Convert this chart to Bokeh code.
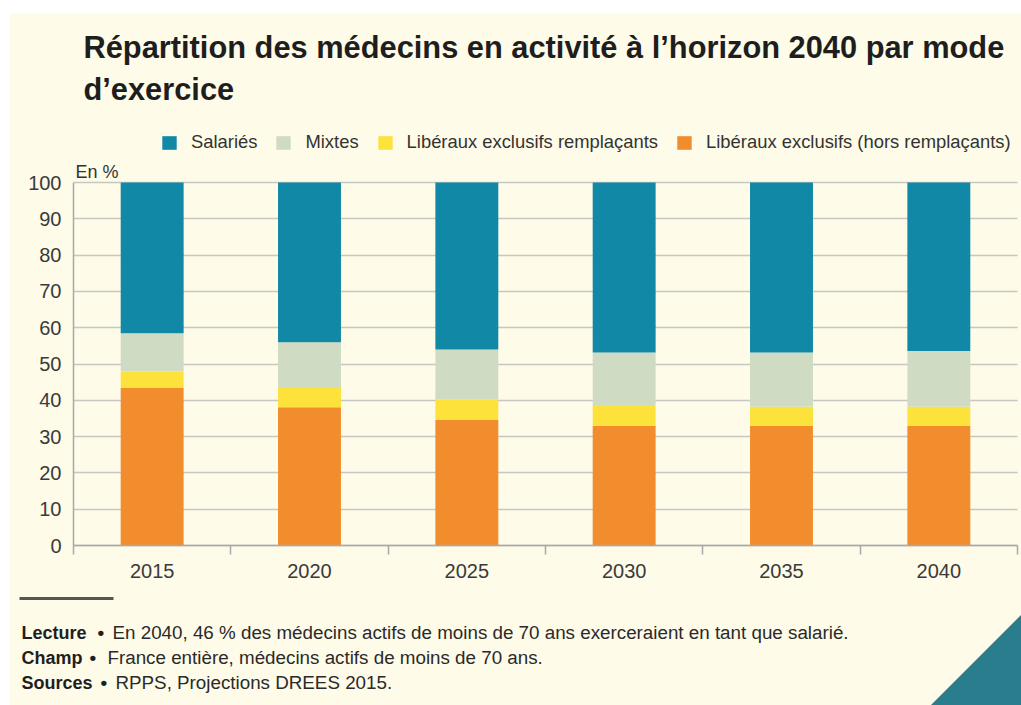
from bokeh.plotting import figure
from bokeh.models import (Range1d, FixedTicker, Legend, LegendItem, Label,
                          ColumnDataSource, Grid)
from bokeh.embed import file_html
from bokeh.resources import INLINE

# ---- data ----
years = ["2015", "2020", "2025", "2030", "2035", "2040"]
liberaux_hors = [43.4, 38.1, 34.6, 33.0, 33.0, 33.0]
liberaux_rempl = [4.5, 5.3, 5.6, 5.7, 5.2, 5.2]
mixtes = [10.6, 12.6, 13.8, 14.5, 15.0, 15.4]
salaries = [41.5, 44.0, 46.0, 46.8, 46.8, 46.4]
y_ticks = [0, 10, 20, 30, 40, 50, 60, 70, 80, 90, 100]

series_names = ["Libéraux exclusifs (hors remplaçants)", "Libéraux exclusifs remplaçants",
                "Mixtes", "Salariés"]
colors = ["#f28d2e", "#fde23b", "#cfdcc3", "#1088a6"]

# ---- layout (page pixels) ----
PAGE_W, PAGE_H = 1021, 705
TOP_WHITE, LEFT_WHITE = 13, 9
FR_L, FR_R, FR_B, Y100 = 73, 1017, 545, 182   # plot area / value scale in page px
CREAM = "#fefbe8"
FONT = "Liberation Sans"
TEXT = "#1e1e1e"

W = PAGE_W - LEFT_WHITE
H = PAGE_H - TOP_WHITE
PX_PER_UNIT = (FR_B - Y100) / 100.0

def dx(px):
    return (px - FR_L) / (FR_R - FR_L) * len(years) - 0.5

def dy(py):
    return (FR_B - py) / PX_PER_UNIT

p = figure(width=W, height=H, output_backend="svg", toolbar_location=None,
           x_range=Range1d(dx(LEFT_WHITE), dx(PAGE_W)),
           y_range=Range1d(dy(PAGE_H), dy(TOP_WHITE)),
           min_border_left=0, min_border_right=0, min_border_top=0, min_border_bottom=0,
           margin=(TOP_WHITE, 0, 0, LEFT_WHITE))
p.background_fill_color = CREAM
p.border_fill_color = CREAM
p.outline_line_color = None

xs = list(range(len(years)))
src = ColumnDataSource(dict(x=xs, hors=liberaux_hors, rempl=liberaux_rempl,
                            mixtes=mixtes, sal=salaries))
rs = p.vbar_stack(["hors", "rempl", "mixtes", "sal"], x="x", width=0.4,
                  fill_color=colors, line_color=None, source=src)

AX = "#a9a9a9"
# x axis (drawn at value 0)
xa = p.xaxis[0]
xa.fixed_location = 0
xa.bounds = (-0.5, len(years) - 0.5)
xa.ticker = FixedTicker(ticks=xs, minor_ticks=[i - 0.5 for i in range(len(years) + 1)])
xa.major_label_overrides = {i: y for i, y in zip(xs, years)}
xa.major_tick_out = 0
xa.major_tick_in = 0
xa.minor_tick_out = 9
xa.minor_tick_in = 0
xa.minor_tick_line_color = AX
xa.minor_tick_line_width = 1.5
xa.axis_line_color = AX
xa.axis_line_width = 1.5
xa.major_label_text_font = FONT
xa.major_label_text_font_size = "20px"
xa.major_label_text_color = "#3a3a3a"
xa.major_label_standoff = 9

# y axis (drawn at left edge of the plot area)
ya = p.yaxis[0]
ya.fixed_location = -0.5
ya.ticker = FixedTicker(ticks=y_ticks)
ya.bounds = (0, 100)
ya.major_tick_out = 0
ya.major_tick_in = 0
ya.minor_tick_out = 0
ya.minor_tick_in = 0
ya.axis_line_color = AX
ya.axis_line_width = 1.5
ya.major_label_text_font = FONT
ya.major_label_text_font_size = "20px"
ya.major_label_text_color = "#3a3a3a"
ya.major_label_standoff = 12

p.xgrid.visible = False
yg = p.ygrid[0]
yg.ticker = ya.ticker
yg.bounds = (0, 100)
if "cross_bounds" in Grid.properties():
    yg.cross_bounds = (-0.5, len(years) - 0.5)
yg.grid_line_color = "#c6c6c2"
yg.grid_line_width = 1.5

# legend
order = [3, 2, 1, 0]
items = [LegendItem(label=series_names[i], renderers=[rs[i]]) for i in order]
legend = Legend(items=items, orientation="horizontal",
                location=(160 - LEFT_WHITE, PAGE_H - 153),
                padding=0, margin=0, spacing=17, glyph_width=18, glyph_height=17,
                label_standoff=13, label_height=17,
                label_text_font=FONT, label_text_font_size="18.4px",
                label_text_color="#333333", background_fill_alpha=0,
                border_line_color=None)
p.add_layout(legend)

def lab(x, y, text, size, bold=False, color=TEXT):
    p.add_layout(Label(x=dx(x), y=dy(y), text=text, text_font=FONT,
                       text_font_size=size,
                       text_font_style="bold" if bold else "normal",
                       text_color=color, text_baseline="alphabetic",
                       text_align="left"))

lab(83, 47, "Répartition des médecins en activité à l’horizon 2040 par mode", "30.8px", True)
lab(83, 89, "d’exercice", "30.8px", True)
lab(75, 171, "En %", "18px", False, "#333333")

# footnotes
p.quad(left=[dx(19)], right=[dx(113)], top=[dy(596.5)], bottom=[dy(599.5)],
       fill_color="#555555", line_color=None)
p.patch([dx(930), dx(1021), dx(1021)], [dy(705), dy(614), dy(705)],
        fill_color="#2a7d8c", line_color=None)

lab(21, 632, "Lecture", "18px", True)
lab(97, 632, "•", "19px", True)
lab(112, 632, "En 2040, 46 % des médecins actifs de moins de 70 ans exerceraient en tant que salarié.", "18.8px", False, "#2a2a2a")
lab(21, 657, "Champ", "18px", True)
lab(89, 657, "•", "19px", True)
lab(107, 657, "France entière, médecins actifs de moins de 70 ans.", "18.8px", False, "#2a2a2a")
lab(21, 682, "Sources", "18px", True)
lab(100, 682, "•", "19px", True)
lab(115, 682, "RPPS, Projections DREES 2015.", "18.8px", False, "#2a2a2a")

open("out.html", "w").write(file_html(p, INLINE))
